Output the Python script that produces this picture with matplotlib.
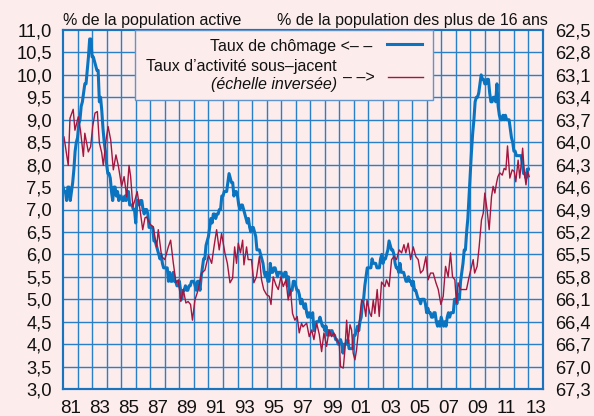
import numpy as np
import matplotlib
matplotlib.use("Agg")
import matplotlib.pyplot as plt
from matplotlib.patches import Rectangle
from matplotlib.lines import Line2D

plt.rcParams['font.family'] = ['Liberation Sans', 'DejaVu Sans']

BG = '#FCECEC'
GRID = '#2a80c6'
FRAME = '#1a74bd'
BLUE = '#0b74c0'
RED = '#a3163f'

# --- DATA ---
# unemployment rate, monthly, Jan 1981 -> Jan 2013 (% of labour force, left axis)
first_year = 1981
unemployment = [
    7.5, 7.4, 7.4, 7.2, 7.5, 7.5, 7.2, 7.4, 7.6, 7.9, 8.3, 8.5,        # 1981
    8.6, 8.9, 9.0, 9.3, 9.4, 9.6, 9.8, 9.8, 10.1, 10.4, 10.8, 10.8,    # 1982
    10.4, 10.4, 10.3, 10.2, 10.1, 10.1, 9.4, 9.5, 9.2, 8.8, 8.5, 8.3,  # 1983
    8.0, 7.8, 7.8, 7.7, 7.4, 7.2, 7.5, 7.5, 7.3, 7.4, 7.2, 7.3,        # 1984
    7.3, 7.2, 7.2, 7.3, 7.2, 7.4, 7.4, 7.1, 7.1, 7.1, 7.0, 7.0,        # 1985
    6.7, 7.2, 7.2, 7.1, 7.2, 7.2, 7.0, 6.9, 7.0, 7.0, 6.9, 6.6,        # 1986
    6.6, 6.6, 6.6, 6.3, 6.3, 6.2, 6.1, 6.0, 5.9, 6.0, 5.8, 5.7,        # 1987
    5.7, 5.7, 5.7, 5.4, 5.6, 5.4, 5.4, 5.6, 5.4, 5.4, 5.3, 5.3,        # 1988
    5.4, 5.2, 5.0, 5.2, 5.2, 5.3, 5.2, 5.2, 5.3, 5.3, 5.4, 5.4,        # 1989
    5.4, 5.3, 5.2, 5.4, 5.4, 5.2, 5.5, 5.7, 5.9, 5.9, 6.2, 6.3,        # 1990
    6.4, 6.6, 6.8, 6.7, 6.9, 6.9, 6.8, 6.9, 6.9, 7.0, 7.0, 7.3,        # 1991
    7.3, 7.4, 7.4, 7.4, 7.6, 7.8, 7.7, 7.6, 7.6, 7.3, 7.4, 7.4,        # 1992
    7.3, 7.1, 7.0, 7.1, 7.1, 7.0, 6.9, 6.8, 6.7, 6.8, 6.6, 6.5,        # 1993
    6.6, 6.6, 6.5, 6.4, 6.1, 6.1, 6.1, 6.0, 5.9, 5.8, 5.6, 5.5,        # 1994
    5.6, 5.4, 5.4, 5.8, 5.6, 5.6, 5.7, 5.7, 5.6, 5.5, 5.6, 5.6,        # 1995
    5.6, 5.5, 5.5, 5.6, 5.6, 5.3, 5.5, 5.1, 5.2, 5.2, 5.4, 5.4,        # 1996
    5.3, 5.2, 5.2, 5.1, 4.9, 5.0, 4.9, 4.8, 4.9, 4.7, 4.6, 4.7,        # 1997
    4.6, 4.6, 4.7, 4.3, 4.4, 4.5, 4.5, 4.5, 4.6, 4.5, 4.4, 4.4,        # 1998
    4.3, 4.4, 4.2, 4.3, 4.2, 4.3, 4.3, 4.2, 4.2, 4.1, 4.1, 4.0,        # 1999
    4.0, 4.1, 4.0, 3.8, 4.0, 4.0, 4.0, 4.1, 3.9, 3.9, 3.9, 3.9,        # 2000
    4.2, 4.2, 4.3, 4.4, 4.3, 4.5, 4.6, 4.9, 5.0, 5.3, 5.5, 5.7,        # 2001
    5.7, 5.7, 5.7, 5.9, 5.8, 5.8, 5.8, 5.7, 5.7, 5.7, 5.9, 6.0,        # 2002
    5.8, 5.9, 5.9, 6.0, 6.1, 6.3, 6.2, 6.1, 6.1, 6.0, 5.8, 5.7,        # 2003
    5.7, 5.6, 5.8, 5.6, 5.6, 5.6, 5.5, 5.4, 5.4, 5.5, 5.4, 5.4,        # 2004
    5.3, 5.4, 5.2, 5.2, 5.1, 5.0, 5.0, 4.9, 5.0, 5.0, 5.0, 4.9,        # 2005
    4.7, 4.8, 4.7, 4.7, 4.6, 4.6, 4.7, 4.7, 4.5, 4.4, 4.5, 4.4,        # 2006
    4.6, 4.5, 4.4, 4.5, 4.4, 4.6, 4.7, 4.6, 4.7, 4.7, 4.7, 5.0,        # 2007
    5.0, 4.9, 5.1, 5.0, 5.4, 5.6, 5.8, 6.1, 6.1, 6.5, 6.8, 7.3,        # 2008
    7.8, 8.3, 8.7, 9.0, 9.4, 9.5, 9.5, 9.6, 9.8, 10.0, 9.9, 9.9,       # 2009
    9.8, 9.8, 9.9, 9.9, 9.6, 9.4, 9.4, 9.5, 9.5, 9.4, 9.8, 9.3,        # 2010
    9.1, 9.0, 9.0, 9.1, 9.0, 9.1, 9.0, 9.0, 9.0, 8.8, 8.6, 8.5,        # 2011
    8.3, 8.3, 8.2, 8.2, 8.2, 8.2, 8.2, 8.0, 7.8, 7.8, 7.7, 7.9,        # 2012
    7.9,                                                               # 2013
]

# underlying participation rate (% of 16+ population, right axis, inverted)
activity_dates = [
    1981.07, 1981.36, 1981.48, 1981.70, 1981.82, 1982.05, 1982.20, 1982.40,
    1982.50, 1982.74, 1982.90, 1983.04, 1983.20, 1983.36, 1983.50, 1983.66,
    1983.77, 1983.96, 1984.10, 1984.28, 1984.46, 1984.64, 1984.80, 1985.03,
    1985.20, 1985.38, 1985.54, 1985.65, 1985.80, 1985.95, 1986.10, 1986.30,
    1986.48, 1986.64, 1986.75, 1987.00, 1987.20, 1987.44, 1987.55, 1987.78,
    1988.00, 1988.24, 1988.40, 1988.58, 1988.77, 1988.93, 1989.10, 1989.27,
    1989.45, 1989.60, 1989.77, 1989.90, 1990.07, 1990.30, 1990.53, 1990.76,
    1991.00, 1991.22, 1991.38, 1991.56, 1991.74, 1991.90, 1992.13, 1992.30,
    1992.48, 1992.66, 1992.80, 1992.93, 1993.05, 1993.20, 1993.35, 1993.44,
    1993.62, 1993.73, 1993.96, 1994.12, 1994.30, 1994.50, 1994.65, 1994.80,
    1995.00, 1995.18, 1995.30, 1995.45, 1995.64, 1995.80, 1995.98, 1996.14,
    1996.33, 1996.48, 1996.64, 1996.78, 1996.94, 1997.10, 1997.24, 1997.40,
    1997.50, 1997.75, 1997.93, 1998.10, 1998.25, 1998.44, 1998.62, 1998.78,
    1998.94, 1999.12, 1999.30, 1999.47, 1999.62, 1999.80, 1999.99, 2000.08,
    2000.27, 2000.38, 2000.50, 2000.60, 2000.73, 2000.84, 2000.95, 2001.07,
    2001.18, 2001.36, 2001.53, 2001.68, 2001.82, 2001.90, 2002.10, 2002.20,
    2002.33, 2002.44, 2002.60, 2002.74, 2002.90, 2003.13, 2003.24, 2003.42,
    2003.59, 2003.75, 2003.93, 2004.11, 2004.28, 2004.44, 2004.57, 2004.73,
    2004.90, 2005.08, 2005.26, 2005.42, 2005.58, 2005.76, 2005.95, 2006.10,
    2006.27, 2006.45, 2006.64, 2006.80, 2006.98, 2007.14, 2007.30, 2007.48,
    2007.64, 2007.78, 2007.94, 2008.05, 2008.16, 2008.33, 2008.50, 2008.74,
    2008.92, 2009.09, 2009.20, 2009.30, 2009.47, 2009.61, 2009.77, 2009.89,
    2010.00, 2010.16, 2010.30, 2010.46, 2010.57, 2010.69, 2010.80, 2010.90,
    2011.03, 2011.20, 2011.33, 2011.45, 2011.56, 2011.72, 2011.88, 2012.02,
    2012.13, 2012.29, 2012.40, 2012.52, 2012.60, 2012.72, 2012.83, 2012.94,
    2013.05,
]
activity_rate = [
    63.93, 64.31, 63.68, 63.56, 63.84, 63.66, 63.84, 64.19,
    63.88, 64.13, 64.06, 63.79, 63.61, 63.59, 64.01, 64.14,
    64.31, 63.97, 63.79, 63.97, 64.37, 64.17, 64.31, 64.59,
    64.46, 64.73, 64.31, 64.46, 64.86, 64.77, 64.66, 64.91,
    65.17, 65.01, 65.00, 65.10, 65.13, 65.40, 65.17, 65.53,
    65.57, 65.40, 65.31, 65.61, 65.88, 65.84, 66.13, 65.97,
    66.15, 66.13, 66.17, 66.38, 66.11, 65.97, 65.75, 65.71,
    65.51, 65.62, 65.40, 65.17, 65.44, 65.22, 65.48, 65.62,
    65.88, 65.82, 65.40, 65.62, 65.35, 65.48, 65.31, 65.64,
    65.40, 65.57, 65.57, 65.88, 65.80, 65.53, 65.84, 65.97,
    66.04, 66.06, 66.17, 65.80, 65.91, 65.97, 65.80, 65.93,
    65.84, 66.11, 65.97, 66.29, 66.38, 66.33, 66.55, 66.42,
    66.47, 66.42, 66.60, 66.51, 66.64, 66.42, 66.57, 66.80,
    66.55, 66.73, 66.51, 66.60, 66.55, 66.64, 66.69, 67.00,
    67.02, 66.78, 66.38, 66.69, 66.44, 66.51, 66.82, 66.91,
    66.78, 66.42, 66.11, 66.15, 66.33, 66.11, 66.29, 66.33,
    66.11, 66.29, 65.97, 66.33, 65.87, 65.93, 65.84, 65.93,
    65.57, 65.53, 65.57, 65.44, 65.48, 65.37, 65.48, 65.35,
    65.57, 65.40, 65.53, 65.57, 65.75, 65.71, 65.53, 65.84,
    65.75, 65.75, 65.88, 65.97, 66.17, 66.06, 65.66, 65.80,
    65.48, 65.80, 65.84, 66.15, 65.88, 65.97, 65.97, 65.97,
    65.80, 65.66, 65.57, 65.75, 65.66, 65.40, 65.04, 64.95,
    64.68, 64.91, 65.17, 64.73, 64.59, 64.68, 64.55, 64.46,
    64.41, 64.44, 64.35, 64.37, 64.05, 64.48, 64.37, 64.39,
    64.53, 64.24, 64.48, 64.26, 64.08, 64.41, 64.57, 64.39,
    64.46,
]

left_ticks = [3.0, 3.5, 4.0, 4.5, 5.0, 5.5, 6.0, 6.5, 7.0, 7.5, 8.0,
              8.5, 9.0, 9.5, 10.0, 10.5, 11.0]
right_ticks = [62.5, 62.8, 63.1, 63.4, 63.7, 64.0, 64.3, 64.6, 64.9,
               65.2, 65.5, 65.8, 66.1, 66.4, 66.7, 67.0, 67.3]
label_years = list(range(1981, 2014, 2))
year_labels = [f"{y % 100:02d}" for y in label_years]

# --- FIGURE ---
W, H = 594, 416
fig = plt.figure(figsize=(W / 100, H / 100), dpi=100, facecolor=BG)


def fx(px):
    return px / W


def fy(py):
    return 1 - py / H


ax = fig.add_axes([fx(63), fy(389), fx(543) - fx(63), fy(30) - fy(389)])
ax.set_facecolor(BG)
ax.set_xlim(1981, 2014)
ax.set_ylim(3.0, 11.0)

# grid: a line every year and every half point
for yr in range(1982, 2014):
    ax.axvline(yr, color=GRID, lw=1.0, zorder=0.5)
for v in left_ticks[1:-1]:
    ax.axhline(v, color=GRID, lw=1.0, zorder=0.5)

months = first_year + np.arange(len(unemployment)) / 12
ax.plot(months, unemployment, color=BLUE, lw=2.2, zorder=2,
        solid_joinstyle='round')

ax.set_yticks(left_ticks)
ax.set_yticklabels([f"{v:.1f}".replace('.', ',') for v in left_ticks])
ax.set_xticks([y + 0.5 for y in label_years])
ax.set_xticklabels(year_labels)
ax.tick_params(axis='y', length=0, pad=8, labelsize=13.2, colors='#111111')
ax.tick_params(axis='x', length=0, pad=8, labelsize=13.5, colors='#111111')

ax2 = ax.twinx()
ax2.set_ylim(67.3, 62.5)
ax2.plot(activity_dates, activity_rate, color=RED, lw=1.0, zorder=2)
ax2.set_yticks(right_ticks)
ax2.set_yticklabels([f"{v:.1f}".replace('.', ',') for v in right_ticks])
ax2.tick_params(axis='y', length=0, pad=9, labelsize=13.2, colors='#111111')

for a in (ax, ax2):
    for s in a.spines.values():
        s.set_color(FRAME)
        s.set_linewidth(1.5)

# legend box in the upper part of the grid
box_x0, box_x1 = 1985.95, 2006.43
box_y0 = 9.44
ax2.add_patch(Rectangle((box_x0, 62.5), box_x1 - box_x0,
                        (11.0 - box_y0) * 0.6, transform=ax2.transData,
                        facecolor=BG, edgecolor='#5f95cc', lw=1.0, zorder=5))

fs = 11.5
fig.text(fx(63), fy(20), "% de la population active", ha='left',
         va='center', fontsize=fs, color='#111111')
fig.text(fx(548), fy(20), "% de la population des plus de 16 ans",
         ha='right', va='center', fontsize=fs, color='#111111')

fig.text(fx(372), fy(46), "Taux de chômage <– –", ha='right', va='center',
         fontsize=fs, color='#111111', zorder=6)
fig.text(fx(337), fy(67), "Taux d’activité sous–jacent", ha='right',
         va='center', fontsize=fs, color='#111111', zorder=6)
fig.text(fx(337), fy(84), "(échelle inversée)", ha='right', va='center',
         fontsize=fs, style='italic', color='#111111', zorder=6)
fig.text(fx(343), fy(78), "– –>", ha='left', va='center', fontsize=fs,
         color='#111111', zorder=6)

fig.add_artist(Line2D([fx(387), fx(422)], [fy(44), fy(44)],
                      transform=fig.transFigure, color=BLUE, lw=2.2))
fig.add_artist(Line2D([fx(388), fx(423)], [fy(77), fy(77)],
                      transform=fig.transFigure, color=RED, lw=1.0))

fig.savefig("out.png", dpi=100, facecolor=BG)
